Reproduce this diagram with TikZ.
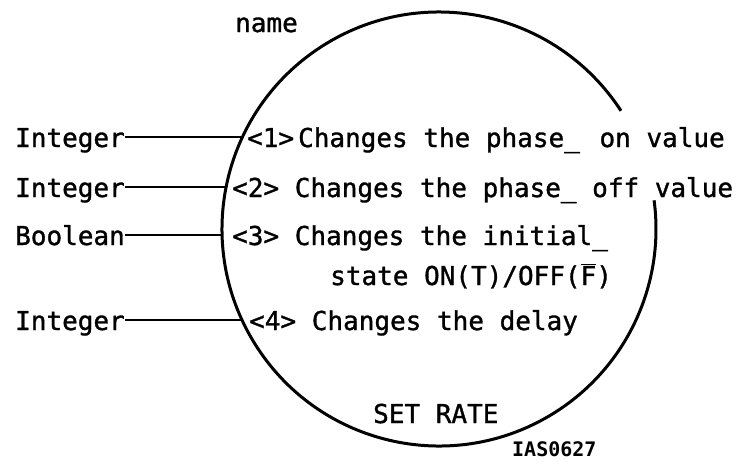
\documentclass[tikz,border=0pt]{standalone}
\usepackage{fontspec}
\newfontfamily\monofont[FakeBold=1.2]{DejaVu Sans Mono}
\newfontfamily\idfont{DejaVu Sans Mono Bold}
\begin{document}
\begin{tikzpicture}[x=1pt,y=-1pt,
  txt/.style={anchor=base west,inner sep=0pt,font=\monofont\fontsize{26}{30}\selectfont},
  small/.style={anchor=base west,inner sep=0pt,font=\idfont\fontsize{20}{24}\selectfont},
  circ/.style={line width=3pt},
  conn/.style={line width=2pt}]
\useasboundingbox (0,0) rectangle (741,463);
% bubble
\coordinate (ctr) at (439,229);
\draw[circ] (ctr) ++(-33:217) arc[start angle=-33,end angle=-367.6,radius=217];
% points on the bubble
\coordinate (c1) at (242.5,137);
\coordinate (c2) at (226,187);
\coordinate (c3) at (222,235);
\coordinate (c4) at (242,320);
% labels
\node[txt] (name) at (235,32) {name};
\node[txt] (t1) at (15,147) {Integer};
\node[txt] (t2) at (15,197) {Integer};
\node[txt] (t3) at (15,245) {Boolean};
\node[txt] (t4) at (15,330) {Integer};
\node[txt] (r1) at (247,147) {<1>\kern4pt Changes the phase\_\kern4pt{} on value};
\node[txt] (r2) at (232,197) {<2> Changes the phase\_ off value};
\node[txt] (r3) at (232,245) {<3> Changes the initial\_};
\node[txt] (r3b) at (330,285) {state ON(T)/OFF($\overline{\hbox{F}}$)};
\node[txt] (r4) at (249,330) {<4> Changes the delay};
\node[txt] (title) at (373,423) {SET RATE};
\node[small] (id) at (512,456) {IAS0627};
% connectors
\draw[conn] (t1.east |- c1) -- (c1);
\draw[conn] (t2.east |- c2) -- (c2);
\draw[conn] (t3.east |- c3) -- (c3);
\draw[conn] (t4.east |- c4) -- (c4);
\end{tikzpicture}
\end{document}
